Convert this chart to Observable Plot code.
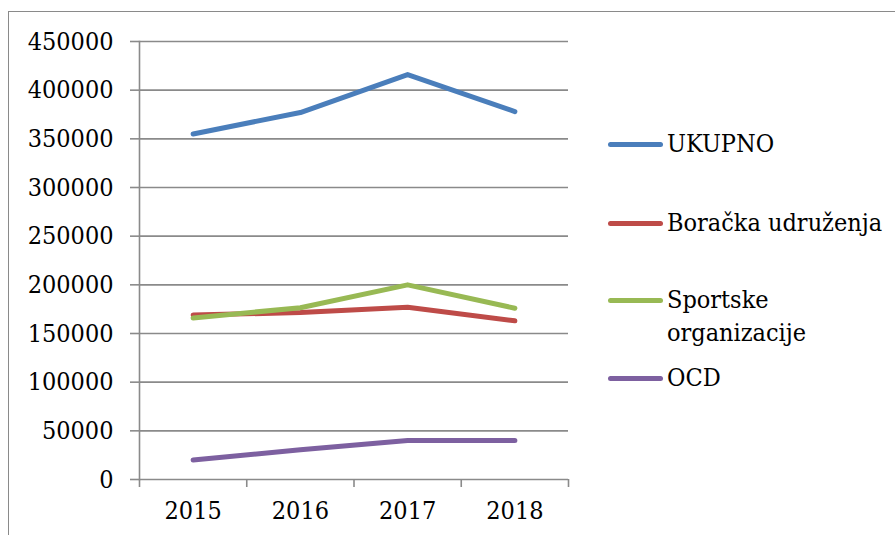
<!DOCTYPE html>
<html>
<head>
<meta charset="utf-8">
<script src="https://cdn.jsdelivr.net/npm/d3@7"></script>
<script src="https://cdn.jsdelivr.net/npm/@observablehq/plot@0.6"></script>
<style>
  html, body { margin: 0; padding: 0; background: #fff; overflow: hidden; }
  body { width: 895px; height: 535px; position: relative; font-family: "DejaVu Serif Condensed", "DejaVu Serif", serif; font-stretch: condensed; }
  #frame { position: absolute; left: 8px; top: 11px; width: 1000px; height: 1000px; border: 1.5px solid #8a8a8a; box-sizing: border-box; }
  #chart { position: absolute; left: 0; top: 0; }
  #legend { position: absolute; left: 0; top: 0; }
  .item { position: absolute; left: 608px; display: flex; align-items: flex-start; }
  .sw { width: 55px; height: 5px; border-radius: 3px; margin-top: 15px; }
  .lbl { font-size: 25px; line-height: 33px; color: #000; margin-left: 4px; width: 224px; }
</style>
</head>
<body>
<div id="frame"></div>
<div id="chart"></div>
<div id="legend"></div>
<script>
const years = [2015, 2016, 2017, 2018];
const seriesNames = ["UKUPNO", "Boračka udruženja", "Sportske organizacije", "OCD"];
const colors = ["#4a7ebb", "#be4b48", "#98b954", "#7d60a0"];
const ukupno = [355000, 377000, 416000, 378000];
const boracka = [169000, 171500, 177000, 163000];
const sportske = [166000, 176500, 200000, 176000];
const ocd = [20000, 30500, 40000, 40000];
const yTicks = [0, 50000, 100000, 150000, 200000, 250000, 300000, 350000, 400000, 450000];
const catBounds = [2014.5, 2015.5, 2016.5, 2017.5, 2018.5];

const allValues = [ukupno, boracka, sportske, ocd];
const data = [];
seriesNames.forEach((s, i) => years.forEach((y, j) => data.push({series: s, year: y, value: allValues[i][j]})));

const chart = Plot.plot({
  width: 895,
  height: 535,
  marginLeft: 139,
  marginRight: 327,
  marginTop: 41,
  marginBottom: 56,
  style: {fontFamily: '"DejaVu Serif Condensed", "DejaVu Serif", serif', fontSize: "25px", color: "#000", background: "transparent", fontStretch: "condensed"},
  x: {domain: [2014.5, 2018.5]},
  y: {domain: [0, 450000]},
  color: {domain: seriesNames, range: colors},
  marks: [
    Plot.gridY(yTicks, {stroke: "#8a8a8a", strokeOpacity: 1, strokeWidth: 1.6}),
    Plot.axisY(yTicks, {tickSize: 9, tickPadding: 17, stroke: "#8a8a8a", strokeWidth: 1.6, tickFormat: d => String(d), label: null, fill: "#000"}),
    Plot.axisX(catBounds, {tickSize: 8, stroke: "#8a8a8a", strokeWidth: 1.6, tickFormat: () => "", label: null}),
    Plot.axisX(years, {tickSize: 0, tickPadding: 22, tickFormat: d => String(d), label: null, fill: "#000"}),
    Plot.frame({anchor: "left", stroke: "#8a8a8a", strokeWidth: 1.6}),
    Plot.line(data, {x: "year", y: "value", z: "series", stroke: "series", strokeWidth: 5, strokeLinecap: "round", strokeLinejoin: "round"})
  ]
});
document.getElementById("chart").appendChild(chart);

const legend = document.getElementById("legend");
const legendCenters = [144, 223, 300, 378];
seriesNames.forEach((s, i) => {
  const item = document.createElement("div");
  item.className = "item";
  item.style.top = (legendCenters[i] - 17) + "px";
  const sw = document.createElement("div");
  sw.className = "sw";
  sw.style.background = colors[i];
  const lbl = document.createElement("div");
  lbl.className = "lbl";
  lbl.textContent = s;
  item.appendChild(sw);
  item.appendChild(lbl);
  legend.appendChild(item);
});
</script>
</body>
</html>
